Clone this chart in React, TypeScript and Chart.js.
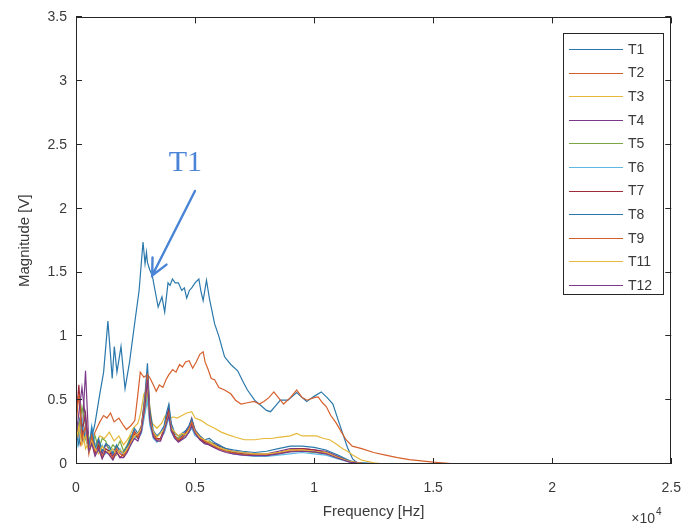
import { useEffect, useRef } from 'react';
import { Chart, registerables } from 'chart.js';

Chart.register(...registerables);

const SERIES_LABELS = ['T1', 'T2', 'T3', 'T4', 'T5', 'T6', 'T7', 'T8', 'T9', 'T11', 'T12'];
const SERIES_COLORS = ['#2a78ab', '#d6602c', '#e6b93a', '#7b3a89', '#7aa840', '#5bb9e4', '#a12a3c', '#2a78ab', '#d6602c', '#e6b93a', '#7b3a89'];

const T1_FREQ = [0, 150, 300, 450, 600, 800, 1000, 1160, 1340, 1430, 1520, 1610, 1720, 1890, 2060, 2250, 2440, 2650, 2815, 2900, 2960, 3000, 3100, 3200, 3330, 3450, 3610, 3725, 3865, 3950, 4050, 4165, 4300, 4440, 4550, 4650, 4760, 4860, 5000, 5160, 5250, 5340, 5480, 5600, 5820, 6000, 6240, 6500, 6790, 7000, 7200, 7500, 7750, 8000, 8170, 8400, 8580, 8900, 9270, 9500, 9690, 10000, 10300, 10550, 10790, 11000, 11200, 11400, 11620, 11800, 12500, 16000];
const T1_MAG = [0.22, 0.35, 0.18, 0.28, 0.15, 0.32, 0.55, 0.72, 1.12, 0.9, 0.67, 0.92, 0.72, 0.92, 0.59, 0.8, 1.07, 1.36, 1.74, 1.57, 1.66, 1.58, 1.52, 1.48, 1.35, 1.23, 1.31, 1.19, 1.42, 1.4, 1.45, 1.42, 1.42, 1.36, 1.38, 1.3, 1.36, 1.38, 1.42, 1.45, 1.35, 1.28, 1.44, 1.3, 1.1, 1.0, 0.84, 0.78, 0.73, 0.65, 0.58, 0.5, 0.46, 0.42, 0.41, 0.46, 0.5, 0.5, 0.56, 0.52, 0.49, 0.53, 0.565, 0.52, 0.47, 0.35, 0.24, 0.13, 0.04, 0.01, 0.005, 0];

const T2_FREQ = [0, 200, 400, 600, 800, 1000, 1160, 1300, 1450, 1600, 1800, 2000, 2120, 2300, 2470, 2600, 2700, 2850, 3000, 3090, 3250, 3370, 3500, 3650, 3780, 3900, 4060, 4200, 4350, 4470, 4600, 4750, 4900, 5050, 5200, 5340, 5420, 5550, 5680, 5820, 6000, 6240, 6500, 6700, 6930, 7200, 7480, 7700, 7890, 8100, 8310, 8500, 8720, 9000, 9270, 9500, 9700, 10000, 10170, 10350, 10510, 10700, 10930, 11150, 11340, 11600, 12000, 12500, 13000, 13500, 14000, 14500, 15000, 15500, 16000];
const T2_MAG = [0.3, 0.15, 0.28, 0.12, 0.25, 0.33, 0.38, 0.36, 0.4, 0.33, 0.36, 0.3, 0.27, 0.3, 0.34, 0.55, 0.72, 0.68, 0.7, 0.68, 0.62, 0.57, 0.62, 0.6, 0.66, 0.7, 0.74, 0.72, 0.78, 0.76, 0.8, 0.81, 0.75, 0.8, 0.86, 0.88, 0.8, 0.74, 0.67, 0.66, 0.6, 0.58, 0.55, 0.5, 0.47, 0.48, 0.49, 0.47, 0.49, 0.52, 0.565, 0.52, 0.47, 0.52, 0.58, 0.52, 0.5, 0.52, 0.525, 0.48, 0.45, 0.38, 0.32, 0.25, 0.19, 0.14, 0.12, 0.09, 0.07, 0.05, 0.035, 0.025, 0.015, 0.008, 0];

const T3_FREQ = [0, 200, 400, 600, 800, 1000, 1200, 1400, 1600, 1800, 2000, 2200, 2400, 2600, 2720, 2850, 3000, 3200, 3400, 3600, 3750, 3900, 4060, 4250, 4450, 4650, 4860, 5000, 5270, 5500, 5820, 6100, 6370, 6700, 7070, 7500, 7890, 8200, 8580, 9000, 9270, 9500, 9800, 10100, 10400, 10650, 10900, 11200, 11400, 11620, 12000, 12500, 13000];
const T3_MAG = [0.2, 0.35, 0.12, 0.2, 0.15, 0.22, 0.2, 0.25, 0.18, 0.22, 0.15, 0.2, 0.28, 0.32, 0.4, 0.55, 0.58, 0.32, 0.28, 0.32, 0.38, 0.35, 0.37, 0.36, 0.38, 0.4, 0.41, 0.36, 0.34, 0.31, 0.28, 0.25, 0.23, 0.21, 0.19, 0.19, 0.2, 0.2, 0.21, 0.22, 0.24, 0.22, 0.22, 0.22, 0.2, 0.19, 0.16, 0.12, 0.1, 0.07, 0.03, 0.01, 0];

const LOW_FREQ = [0, 120, 250, 400, 540, 660, 800, 950, 1100, 1250, 1400, 1550, 1700, 1850, 2000, 2150, 2300, 2450, 2600, 2750, 2900, 3000, 3100, 3250, 3400, 3550, 3700, 3800, 3900, 4000, 4150, 4300, 4450, 4600, 4750, 4860, 5000, 5200, 5400, 5600, 5800, 6000, 6300, 6600, 7000, 7500, 8000, 8500, 9000, 9500, 10000, 10500, 11000, 11500, 12000, 12500, 13000];
const T4_MAG = [0.15, 0.3, 0.2, 0.73, 0.15, 0.25, 0.1, 0.18, 0.08, 0.15, 0.12, 0.06, 0.14, 0.1, 0.07, 0.12, 0.2, 0.26, 0.22, 0.28, 0.5, 0.72, 0.4, 0.22, 0.18, 0.2, 0.26, 0.36, 0.45, 0.28, 0.2, 0.2, 0.22, 0.25, 0.3, 0.36, 0.26, 0.22, 0.18, 0.17, 0.16, 0.14, 0.12, 0.1, 0.09, 0.08, 0.08, 0.1, 0.12, 0.12, 0.11, 0.1, 0.06, 0.02, 0.005, 0, 0];
const T5_MAG = [0.2, 0.25, 0.45, 0.3, 0.2, 0.15, 0.22, 0.12, 0.2, 0.18, 0.1, 0.15, 0.12, 0.18, 0.1, 0.15, 0.22, 0.2, 0.22, 0.26, 0.42, 0.55, 0.35, 0.22, 0.2, 0.2, 0.25, 0.32, 0.38, 0.26, 0.22, 0.2, 0.24, 0.22, 0.26, 0.3, 0.24, 0.2, 0.17, 0.18, 0.15, 0.13, 0.11, 0.09, 0.08, 0.07, 0.07, 0.08, 0.1, 0.1, 0.09, 0.08, 0.05, 0.02, 0.005, 0, 0];
const T6_MAG = [0.1, 0.2, 0.35, 0.25, 0.12, 0.3, 0.15, 0.1, 0.15, 0.08, 0.12, 0.1, 0.08, 0.12, 0.06, 0.1, 0.15, 0.22, 0.2, 0.24, 0.4, 0.5, 0.3, 0.2, 0.17, 0.2, 0.24, 0.3, 0.36, 0.25, 0.2, 0.18, 0.2, 0.22, 0.25, 0.28, 0.22, 0.2, 0.16, 0.16, 0.14, 0.12, 0.1, 0.08, 0.07, 0.06, 0.06, 0.07, 0.08, 0.09, 0.08, 0.07, 0.04, 0.015, 0.003, 0, 0];
const T7_MAG = [0.35, 0.62, 0.25, 0.4, 0.1, 0.2, 0.08, 0.15, 0.05, 0.12, 0.1, 0.04, 0.1, 0.05, 0.08, 0.1, 0.18, 0.24, 0.2, 0.3, 0.52, 0.7, 0.38, 0.24, 0.2, 0.2, 0.28, 0.35, 0.42, 0.3, 0.22, 0.18, 0.2, 0.24, 0.28, 0.32, 0.25, 0.2, 0.17, 0.15, 0.13, 0.12, 0.1, 0.09, 0.08, 0.07, 0.07, 0.09, 0.11, 0.12, 0.11, 0.09, 0.05, 0.02, 0.005, 0, 0];
const T8_MAG = [0.25, 0.15, 0.3, 0.2, 0.12, 0.28, 0.12, 0.2, 0.1, 0.16, 0.14, 0.08, 0.15, 0.1, 0.09, 0.14, 0.2, 0.28, 0.24, 0.3, 0.55, 0.79, 0.42, 0.26, 0.22, 0.25, 0.3, 0.4, 0.47, 0.32, 0.24, 0.22, 0.24, 0.26, 0.3, 0.35, 0.27, 0.22, 0.19, 0.2, 0.17, 0.15, 0.12, 0.11, 0.1, 0.09, 0.1, 0.12, 0.14, 0.14, 0.13, 0.11, 0.07, 0.025, 0.005, 0, 0];
const T9_MAG = [0.3, 0.55, 0.2, 0.3, 0.08, 0.22, 0.1, 0.12, 0.06, 0.1, 0.08, 0.05, 0.12, 0.08, 0.06, 0.11, 0.17, 0.25, 0.21, 0.3, 0.5, 0.71, 0.36, 0.22, 0.19, 0.19, 0.27, 0.34, 0.4, 0.27, 0.21, 0.19, 0.21, 0.23, 0.27, 0.33, 0.26, 0.21, 0.18, 0.16, 0.14, 0.12, 0.1, 0.085, 0.075, 0.07, 0.075, 0.085, 0.1, 0.11, 0.1, 0.085, 0.05, 0.02, 0.005, 0, 0];
const T11_MAG = [0.18, 0.3, 0.15, 0.22, 0.1, 0.18, 0.12, 0.08, 0.14, 0.1, 0.09, 0.12, 0.07, 0.11, 0.08, 0.12, 0.16, 0.22, 0.24, 0.28, 0.45, 0.62, 0.34, 0.25, 0.21, 0.24, 0.27, 0.33, 0.38, 0.28, 0.25, 0.22, 0.24, 0.23, 0.27, 0.3, 0.25, 0.21, 0.19, 0.17, 0.15, 0.13, 0.11, 0.1, 0.09, 0.08, 0.08, 0.09, 0.11, 0.11, 0.1, 0.09, 0.05, 0.02, 0.005, 0, 0];
const T12_MAG = [0.22, 0.4, 0.6, 0.35, 0.1, 0.16, 0.06, 0.12, 0.04, 0.1, 0.07, 0.03, 0.09, 0.05, 0.05, 0.09, 0.15, 0.2, 0.18, 0.26, 0.46, 0.66, 0.34, 0.21, 0.18, 0.18, 0.26, 0.32, 0.38, 0.26, 0.2, 0.17, 0.19, 0.21, 0.25, 0.3, 0.24, 0.19, 0.16, 0.15, 0.13, 0.11, 0.09, 0.08, 0.07, 0.065, 0.065, 0.08, 0.095, 0.1, 0.095, 0.08, 0.045, 0.015, 0.003, 0, 0];

const X_TICKS = [0, 5000, 10000, 15000, 20000, 25000];
const Y_TICKS = [0, 0.5, 1, 1.5, 2, 2.5, 3, 3.5];
const X_TITLE = 'Frequency [Hz]';
const Y_TITLE = 'Magnitude [V]';
const X_EXPONENT = '4';

// annotation: label and arrow in data coordinates
const ANNOT_TEXT = 'T1';
const ANNOT_TEXT_AT = [4594, 2.36];
const ANNOT_TAIL = [4996, 2.14];
const ANNOT_HEAD = [3200, 1.477];

const SERIES_FREQ = [T1_FREQ, T2_FREQ, T3_FREQ, LOW_FREQ, LOW_FREQ, LOW_FREQ, LOW_FREQ, LOW_FREQ, LOW_FREQ, LOW_FREQ, LOW_FREQ];
const SERIES_MAG = [T1_MAG, T2_MAG, T3_MAG, T4_MAG, T5_MAG, T6_MAG, T7_MAG, T8_MAG, T9_MAG, T11_MAG, T12_MAG];

const AXIS_COLOR = '#262626';
const TEXT_COLOR = '#3a3a3a';
const SANS = '"Liberation Sans", Arial, sans-serif';

const overlayPlugin = {
  id: 'overlay',
  afterDatasetsDraw(chart: any) {
    const { ctx, chartArea: a } = chart;
    const xs = chart.scales.x;
    const ys = chart.scales.y;
    ctx.save();
    // box
    ctx.strokeStyle = AXIS_COLOR;
    ctx.lineWidth = 1;
    ctx.strokeRect(Math.round(a.left) + 0.5, Math.round(a.top) + 0.5, Math.round(a.right - a.left) - 1, Math.round(a.bottom - a.top) - 1);
    // inward ticks
    const tl = 6;
    ctx.beginPath();
    X_TICKS.forEach((v) => {
      const px = Math.round(xs.getPixelForValue(v)) + 0.5;
      ctx.moveTo(px, a.bottom);
      ctx.lineTo(px, a.bottom - tl);
      ctx.moveTo(px, a.top);
      ctx.lineTo(px, a.top + tl);
    });
    Y_TICKS.forEach((v) => {
      const py = Math.round(ys.getPixelForValue(v)) - 0.5;
      ctx.moveTo(a.left, py);
      ctx.lineTo(a.left + tl, py);
      ctx.moveTo(a.right, py);
      ctx.lineTo(a.right - tl, py);
    });
    ctx.stroke();

    // x10^4 exponent
    ctx.fillStyle = TEXT_COLOR;
    ctx.font = `14px ${SANS}`;
    ctx.textAlign = 'left';
    ctx.textBaseline = 'alphabetic';
    ctx.fillText('\u00d710', a.right - 40, 523);
    const w = ctx.measureText('\u00d710').width;
    ctx.font = `10px ${SANS}`;
    ctx.fillText(X_EXPONENT, a.right - 40 + w + 1, 515);

    // legend
    const lx = 563, ly = 33, lw = 100, lh = 261;
    ctx.fillStyle = '#ffffff';
    ctx.fillRect(lx, ly, lw, lh);
    ctx.strokeStyle = AXIS_COLOR;
    ctx.lineWidth = 1;
    ctx.strokeRect(lx + 0.5, ly + 0.5, lw, lh);
    ctx.font = `14px ${SANS}`;
    ctx.textBaseline = 'middle';
    chart.data.datasets.forEach((ds: any, i: number) => {
      const ry = ly + 16 + i * 23.6;
      ctx.strokeStyle = ds.borderColor;
      ctx.lineWidth = 1.2;
      ctx.beginPath();
      ctx.moveTo(lx + 6, Math.round(ry) + 0.5);
      ctx.lineTo(lx + 60, Math.round(ry) + 0.5);
      ctx.stroke();
      ctx.fillStyle = TEXT_COLOR;
      ctx.fillText(ds.label, lx + 65, ry + 1);
    });

    // annotation
    const blue = '#4a84d6';
    const tx = xs.getPixelForValue(ANNOT_TEXT_AT[0]);
    const ty = ys.getPixelForValue(ANNOT_TEXT_AT[1]);
    ctx.fillStyle = blue;
    ctx.font = `30px "Liberation Serif", "DejaVu Serif", serif`;
    ctx.textAlign = 'center';
    ctx.textBaseline = 'middle';
    ctx.fillText(ANNOT_TEXT, tx, ty);
    const x0 = xs.getPixelForValue(ANNOT_TAIL[0]);
    const y0 = ys.getPixelForValue(ANNOT_TAIL[1]);
    const x1 = xs.getPixelForValue(ANNOT_HEAD[0]);
    const y1 = ys.getPixelForValue(ANNOT_HEAD[1]);
    const ang = Math.atan2(y1 - y0, x1 - x0);
    ctx.strokeStyle = blue;
    ctx.lineWidth = 2.4;
    ctx.lineCap = 'round';
    ctx.beginPath();
    ctx.moveTo(x0, y0);
    ctx.lineTo(x1, y1);
    const hl = 18, hw = 0.45;
    ctx.moveTo(x1 - hl * Math.cos(ang - hw), y1 - hl * Math.sin(ang - hw));
    ctx.lineTo(x1, y1);
    ctx.lineTo(x1 - hl * Math.cos(ang + hw), y1 - hl * Math.sin(ang + hw));
    ctx.stroke();
    ctx.restore();
  },
};

export default function App() {
  const ref = useRef<HTMLCanvasElement>(null);
  useEffect(() => {
    if (!ref.current) return;
    const datasets = SERIES_LABELS.map((label, i) => ({
      label,
      data: SERIES_FREQ[i].map((f, j) => ({ x: f, y: SERIES_MAG[i][j] })),
      borderColor: SERIES_COLORS[i],
      backgroundColor: SERIES_COLORS[i],
      borderWidth: 1.2,
      pointRadius: 0,
      tension: 0,
      fill: false,
      order: SERIES_LABELS.length - i,
    }));
    const chart = new Chart(ref.current, {
      type: 'line',
      data: { datasets },
      options: {
        animation: false,
        responsive: false,
        devicePixelRatio: 1,
        layout: { padding: { left: 0, right: 17, top: 16, bottom: 0 } },
        plugins: { legend: { display: false }, tooltip: { enabled: false } },
        scales: {
          x: {
            type: 'linear',
            min: 0,
            max: 25000,
            afterFit: (s: any) => { s.height = 64; },
            afterBuildTicks: (s: any) => { s.ticks = X_TICKS.map((v) => ({ value: v })); },
            grid: { display: false, drawTicks: false },
            border: { display: false },
            ticks: {
              padding: 16,
              color: TEXT_COLOR,
              font: { family: SANS, size: 14 },
              maxRotation: 0,
              callback: (v: any) => String(Number(v) / 10000),
            },
            title: {
              display: true,
              text: X_TITLE,
              color: TEXT_COLOR,
              font: { family: SANS, size: 15 },
              padding: { top: 0, bottom: 7 },
            },
          },
          y: {
            type: 'linear',
            min: 0,
            max: 3.5,
            afterFit: (s: any) => { s.width = 76; },
            afterBuildTicks: (s: any) => { s.ticks = Y_TICKS.map((v) => ({ value: v })); },
            grid: { display: false, drawTicks: false },
            border: { display: false },
            ticks: {
              padding: 9,
              color: TEXT_COLOR,
              font: { family: SANS, size: 14 },
              callback: (v: any) => String(v),
            },
            title: {
              display: true,
              text: Y_TITLE,
              color: TEXT_COLOR,
              font: { family: SANS, size: 15 },
              padding: { top: 16, bottom: 0 },
            },
          },
        },
      },
      plugins: [overlayPlugin],
    });
    return () => chart.destroy();
  }, []);
  return (
    <div style={{ position: 'absolute', left: 0, top: 0, width: 697, height: 528, background: '#ffffff' }}>
      <canvas ref={ref} width={697} height={528} style={{ display: 'block' }} />
    </div>
  );
}
